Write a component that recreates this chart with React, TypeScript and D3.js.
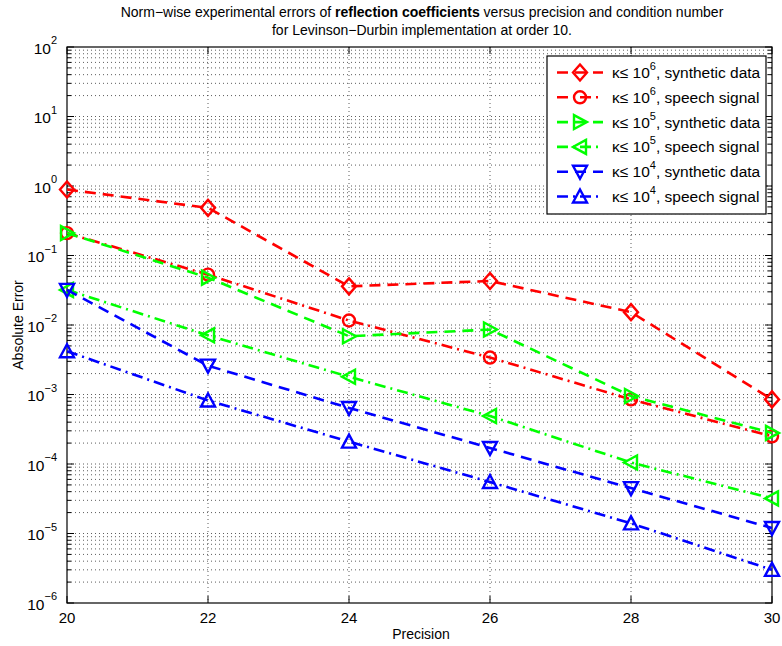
import React from "react";
import * as d3 from "d3";

const precision = [20, 22, 24, 26, 28, 30];
const synth6 = [0.89, 0.485, 0.036, 0.043, 0.0153, 0.00085];
const speech6 = [0.21, 0.053, 0.0116, 0.0034, 0.00085, 0.00025];
const synth5 = [0.21, 0.048, 0.0069, 0.0086, 0.00095, 0.00028];
const speech5 = [0.032, 0.0071, 0.0018, 0.00049, 0.000105, 3.2e-5];
const synth4 = [0.032, 0.0026, 0.00064, 0.00017, 4.5e-5, 1.2e-5];
const speech4 = [0.0042, 0.00082, 0.00021, 5.5e-5, 1.4e-5, 3.0e-6];

const xTicks = [20, 22, 24, 26, 28, 30];
const yExponents = [-6, -5, -4, -3, -2, -1, 0, 1, 2];

const seriesList = [
  { values: synth6, color: "#ff0000", dash: "11,7", marker: "diamond", kappa: "6", kind: "synthetic data" },
  { values: speech6, color: "#ff0000", dash: "11,5,2,5", marker: "circle", kappa: "6", kind: "speech signal" },
  { values: synth5, color: "#00ff00", dash: "11,7", marker: "right", kappa: "5", kind: "synthetic data" },
  { values: speech5, color: "#00ff00", dash: "11,5,2,5", marker: "left", kappa: "5", kind: "speech signal" },
  { values: synth4, color: "#0000ff", dash: "11,7", marker: "down", kappa: "4", kind: "synthetic data" },
  { values: speech4, color: "#0000ff", dash: "11,5,2,5", marker: "up", kappa: "4", kind: "speech signal" },
];

const W = 782, H = 646;
const L = 67, R = 772, T = 47, B = 603;
const FONT = "'Liberation Sans', Arial, sans-serif";

function Marker({ type, x, y, color }: { type: string; x: number; y: number; color: string }) {
  const sw = 2.4;
  const s = 7;
  if (type === "circle") return <circle cx={x} cy={y} r={6} fill="none" stroke={color} strokeWidth={sw} />;
  let pts: number[][] = [];
  if (type === "diamond") pts = [[0, -s - 1], [s, 0], [0, s + 1], [-s, 0]];
  if (type === "right") pts = [[-s + 1, -s], [s, 0], [-s + 1, s]];
  if (type === "left") pts = [[s - 1, -s], [-s, 0], [s - 1, s]];
  if (type === "down") pts = [[-s, -s + 1], [s, -s + 1], [0, s]];
  if (type === "up") pts = [[-s, s - 1], [s, s - 1], [0, -s]];
  return (
    <polygon
      points={pts.map((p) => `${x + p[0]},${y + p[1]}`).join(" ")}
      fill="none"
      stroke={color}
      strokeWidth={sw}
      strokeLinejoin="miter"
    />
  );
}

export default function App() {
  const x = d3.scaleLinear().domain([20, 30]).range([L, R]);
  const y = d3.scaleLog().domain([1e-6, 1e2]).range([B, T]);
  const line = d3
    .line<number>()
    .x((_, i) => x(precision[i]))
    .y((d) => y(d));

  const minorVals: number[] = [];
  for (let e = -6; e < 2; e++) for (let m = 2; m <= 9; m++) minorVals.push(m * Math.pow(10, e));
  const majorVals = yExponents.map((e) => Math.pow(10, e));

  const gridStyle = { stroke: "#333", strokeWidth: 0.8, strokeDasharray: "1,3" };

  const legX = 547, legY = 56, legW = 219, legH = 158, legStep = 24.8;

  return (
    <svg width={W} height={H} style={{ position: "absolute", left: 0, top: 0, background: "#fff" }} fontFamily={FONT}>
      <rect x={0} y={0} width={W} height={H} fill="#fff" />
      {/* grid */}
      {minorVals.map((v, i) => (
        <line key={"mg" + i} x1={L} x2={R} y1={y(v)} y2={y(v)} style={gridStyle} />
      ))}
      {majorVals.slice(1, -1).map((v, i) => (
        <line key={"Mg" + i} x1={L} x2={R} y1={y(v)} y2={y(v)} style={gridStyle} />
      ))}
      {xTicks.slice(1, -1).map((t) => (
        <line key={"xg" + t} x1={x(t)} x2={x(t)} y1={T} y2={B} style={gridStyle} />
      ))}
      {/* ticks */}
      {minorVals.map((v, i) => (
        <g key={"mt" + i} stroke="#000" strokeWidth={1}>
          <line x1={L} x2={L + 4} y1={y(v)} y2={y(v)} />
          <line x1={R} x2={R - 4} y1={y(v)} y2={y(v)} />
        </g>
      ))}
      {majorVals.map((v, i) => (
        <g key={"Mt" + i} stroke="#000" strokeWidth={1}>
          <line x1={L} x2={L + 7} y1={y(v)} y2={y(v)} />
          <line x1={R} x2={R - 7} y1={y(v)} y2={y(v)} />
        </g>
      ))}
      {xTicks.map((t) => (
        <g key={"xt" + t} stroke="#000" strokeWidth={1}>
          <line x1={x(t)} x2={x(t)} y1={B} y2={B - 7} />
          <line x1={x(t)} x2={x(t)} y1={T} y2={T + 7} />
        </g>
      ))}
      <rect x={L} y={T} width={R - L} height={B - T} fill="none" stroke="#000" strokeWidth={1.2} />
      {/* tick labels */}
      {yExponents.map((e) => (
        <text key={"yl" + e} x={L - 10} y={y(Math.pow(10, e)) + 6.5} textAnchor="end" fontSize={15.5} fill="#000">
          10
          <tspan dy={-9.5} fontSize={11}>{e < 0 ? "\u2212" + Math.abs(e) : String(e)}</tspan>
        </text>
      ))}
      {xTicks.map((t) => (
        <text key={"xl" + t} x={x(t)} y={B + 20} textAnchor="middle" fontSize={15} fill="#000">
          {t}
        </text>
      ))}
      {/* axis labels */}
      <text x={421} y={639} textAnchor="middle" fontSize={14} fill="#000">Precision</text>
      <text transform={`translate(23,${(T + B) / 2}) rotate(-90)`} textAnchor="middle" fontSize={14} fill="#000">
        Absolute Error
      </text>
      {/* title */}
      <text x={422} y={17} textAnchor="middle" fontSize={14} fill="#000">
        Norm−wise experimental errors of <tspan fontWeight="bold">reflection coefficients</tspan> versus precision and condition number
      </text>
      <text x={422} y={35} textAnchor="middle" fontSize={14} fill="#000">
        for Levinson−Durbin implementation at order 10.
      </text>
      {/* series */}
      {seriesList.map((s, k) => (
        <g key={"s" + k}>
          <path d={line(s.values) || ""} fill="none" stroke={s.color} strokeWidth={2.6} strokeDasharray={s.dash} />
          {s.values.map((v, i) => (
            <Marker key={i} type={s.marker} x={x(precision[i])} y={y(v)} color={s.color} />
          ))}
        </g>
      ))}
      {/* legend */}
      <rect x={legX} y={legY} width={legW} height={legH} fill="#fff" stroke="#000" strokeWidth={1.2} />
      {seriesList.map((s, k) => {
        const cy = legY + 16.5 + k * legStep;
        return (
          <g key={"lg" + k}>
            <line x1={557} x2={603} y1={cy} y2={cy} stroke={s.color} strokeWidth={2.6} strokeDasharray={s.dash} />
            <Marker type={s.marker} x={580} y={cy} color={s.color} />
            <text x={612} y={cy + 5.5} fontSize={15.5} fill="#000">
              κ≤ 10<tspan dy={-8} fontSize={11}>{s.kappa}</tspan>
              <tspan dy={8}>, {s.kind}</tspan>
            </text>
          </g>
        );
      })}
    </svg>
  );
}
